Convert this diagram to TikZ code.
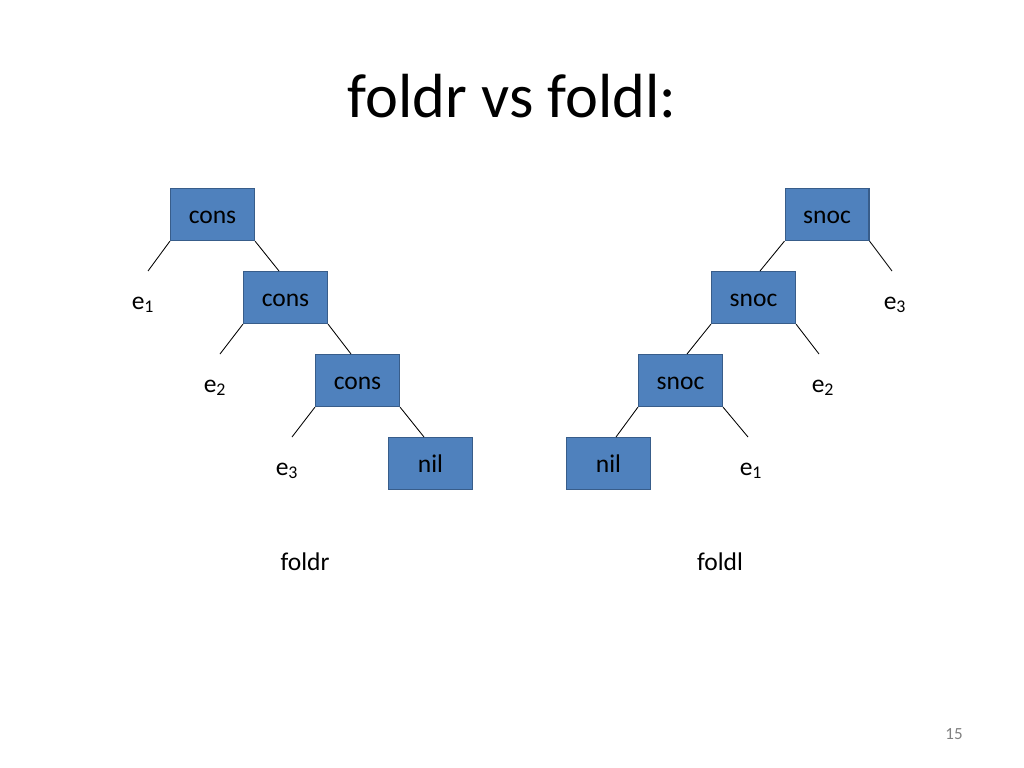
\documentclass[tikz,border=0pt]{standalone}
\usepackage{fontspec}
\setmainfont{Carlito}
\usepackage{tikz}

\definecolor{boxfill}{HTML}{4F81BD}
\definecolor{boxline}{HTML}{385D8A}
\definecolor{pagegrey}{HTML}{808080}

\tikzset{
	treebox/.style={draw=boxline, fill=boxfill, line width=0.8pt,
		minimum width=2.08cm, minimum height=1.29cm, inner sep=0pt,
		text height=16pt, text depth=4pt,
		font=\fontsize{18}{22}\selectfont},
	leaf/.style={anchor=base, font=\fontsize{18}{22}\selectfont},
	edge/.style={line width=0.6pt}
}

\begin{document}
\begin{tikzpicture}[x=0.0248cm, y=-0.0248cm]
	
	\useasboundingbox (0,0) rectangle (1024,768);
	
	\node[anchor=base, font=\fontsize{44}{52}\selectfont] (title) at (512,118) {foldr vs foldl:};
	
	% foldr
	\node[treebox] (cons1) at (212.5,214.5) {cons};
	\node[treebox] (cons2) at (285.5,297.5) {cons};
	\node[treebox] (cons3) at (357.5,380.5) {cons};
	\node[treebox] (nilr) at (430.5,463.5) {nil};
	
	\coordinate (c1l) at (148,271);
	\coordinate (c1r) at (279,271);
	\coordinate (c2l) at (220,354);
	\coordinate (c2r) at (351,354);
	\coordinate (c3l) at (292,437);
	\coordinate (c3r) at (424,437);
	
	\draw[edge] (cons1.south west) -- (c1l);
	\draw[edge] (cons1.south east) -- (c1r);
	\draw[edge] (cons2.south west) -- (c2l);
	\draw[edge] (cons2.south east) -- (c2r);
	\draw[edge] (cons3.south west) -- (c3l);
	\draw[edge] (cons3.south east) -- (c3r);
	
	\node[leaf] (re1) at (143,309) {e\textsubscript{1}};
	\node[leaf] (re2) at (215,392) {e\textsubscript{2}};
	\node[leaf] (re3) at (287,475) {e\textsubscript{3}};
	
	% foldl
	\node[treebox] (snoc1) at (827,214.5) {snoc};
	\node[treebox] (snoc2) at (753.5,297.5) {snoc};
	\node[treebox] (snoc3) at (680.5,380.5) {snoc};
	\node[treebox] (nill) at (608.5,463.5) {nil};
	
	\coordinate (s1l) at (760,271);
	\coordinate (s1r) at (892,271);
	\coordinate (s2l) at (687,354);
	\coordinate (s2r) at (819,354);
	\coordinate (s3l) at (616,437);
	\coordinate (s3r) at (748,437);
	
	\draw[edge] (snoc1.south west) -- (s1l);
	\draw[edge] (snoc1.south east) -- (s1r);
	\draw[edge] (snoc2.south west) -- (s2l);
	\draw[edge] (snoc2.south east) -- (s2r);
	\draw[edge] (snoc3.south west) -- (s3l);
	\draw[edge] (snoc3.south east) -- (s3r);
	
	\node[leaf] (le3) at (895,309) {e\textsubscript{3}};
	\node[leaf] (le2) at (823,392) {e\textsubscript{2}};
	\node[leaf] (le1) at (751,475) {e\textsubscript{1}};
	
	\node[leaf] (foldr) at (305,570) {foldr};
	\node[leaf] (foldl) at (720,570) {foldl};
	
	\node[anchor=base, text=pagegrey, font=\fontsize{12}{14}\selectfont] (page) at (954,739) {15};
	
\end{tikzpicture}
\end{document}
